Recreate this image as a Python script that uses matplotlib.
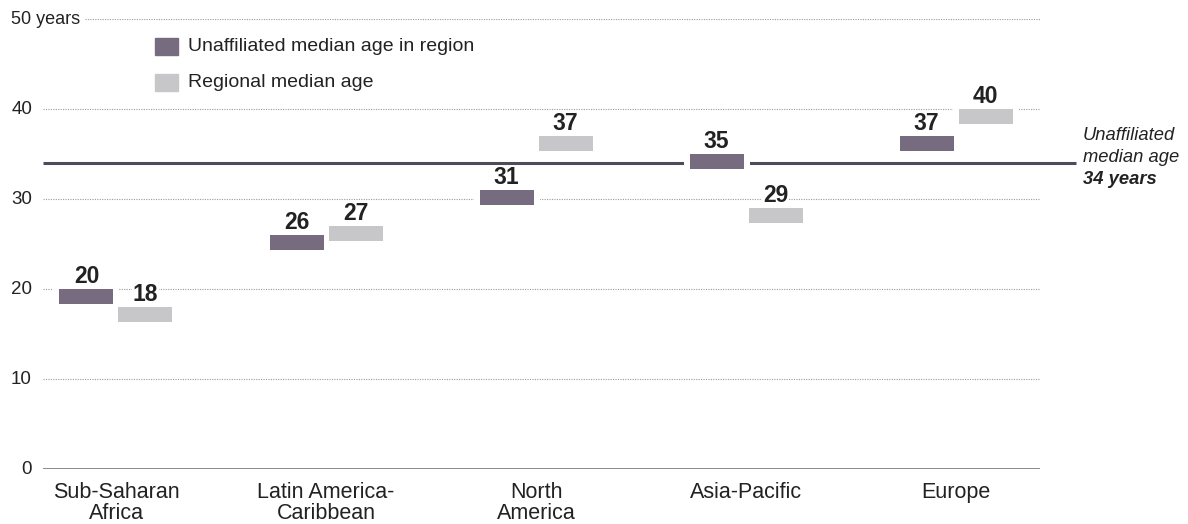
import numpy as np
import matplotlib
matplotlib.use("Agg")
import matplotlib.pyplot as plt
from matplotlib.patches import Rectangle

plt.rcParams['font.family'] = ['Liberation Sans', 'DejaVu Sans']

# data
regions = ["Sub-Saharan\nAfrica", "Latin America-\nCaribbean", "North\nAmerica", "Asia-Pacific", "Europe"]
unaffiliated = [20, 26, 31, 35, 37]
regional = [18, 27, 37, 29, 40]
overall_unaffiliated = 34
y_ticks = [0, 10, 20, 30, 40, 50]

# layout
unit = 210.0          # pixels between category centres
x0_px = 116           # pixel of first category centre
bar_w = 54 / unit
off = 29.5 / unit
bar_h = 1.61
pad = 6 / unit

dark = "#766b7f"
light = "#c7c7c9"
ref_col = "#4f4a5c"
txt = "#222222"

W, H = 1188, 524
fig = plt.figure(figsize=(W / 100, H / 100), dpi=100)

def fx(px):
    return px / W

def fy(py):
    return 1 - py / H

left_px, right_px, top_px, bot_px = 43, 1040, 19.3, 469.3
ax = fig.add_axes([fx(left_px), fy(bot_px), fx(right_px) - fx(left_px), fy(top_px) - fy(bot_px)])
ax.set_xlim((left_px - x0_px) / unit, (right_px - x0_px) / unit)
ax.set_ylim(0, 50)
ax.axis("off")

x = np.arange(len(regions))

# gridlines
for t in y_ticks[1:]:
    xmin = (85 - left_px) / (right_px - left_px) if t == 50 else 0
    ax.axhline(t, xmin=xmin, xmax=1, color="#9a9a9a", lw=0.8, ls=(0, (1, 1.2)), zorder=1)
ax.axhline(0, color="#8a8a8a", lw=1.4, zorder=1)

# y labels
px_per_unit = (bot_px - top_px) / 50
for t in y_ticks:
    if t == 50:
        fig.text(fx(11), fy(top_px), "50 years", ha="left", va="center", fontsize=13, color=txt)
    else:
        fig.text(fx(32), fy(bot_px - t * px_per_unit), str(t), ha="right", va="center",
                 fontsize=13.5, color=txt)

# overall unaffiliated median age line, runs past the plot area
ax.plot([ax.get_xlim()[0], (1076 - x0_px) / unit], [overall_unaffiliated] * 2,
        color=ref_col, lw=2.2, zorder=2, clip_on=False, solid_capstyle="butt")

for i in range(len(regions)):
    for v, dx, c in [(unaffiliated[i], -off, dark), (regional[i], off, light)]:
        # white halo so the lines break around bars
        ax.bar(x[i] + dx, bar_h + 0.5, bottom=v - bar_h - 0.25, width=bar_w + 2 * pad,
               color="white", zorder=2.5)
        ax.bar(x[i] + dx, bar_h, bottom=v - bar_h, width=bar_w, color=c, zorder=3)
        ax.annotate(str(v), (x[i] + dx, v), xytext=(0, 1), textcoords="offset points",
                    ha="center", va="bottom", fontsize=16.5, fontweight="bold", color=txt,
                    zorder=1.5,
                    bbox=dict(boxstyle="square,pad=0.05", fc="white", ec="none"))
    ax.text(x[i], -1.4, regions[i], ha="center", va="top", fontsize=15.5, color=txt,
            linespacing=1.0)

# right annotation
fig.text(fx(1083), fy(140), "Unaffiliated", ha="left", va="baseline", fontsize=13.2,
         style="italic", color=txt)
fig.text(fx(1083), fy(162), "median age", ha="left", va="baseline", fontsize=13.2,
         style="italic", color=txt)
fig.text(fx(1083), fy(184), "34 years", ha="left", va="baseline", fontsize=13.2,
         style="italic", fontweight="bold", color=txt)

# legend
for row, (lab, c) in enumerate([("Unaffiliated median age in region", dark),
                                 ("Regional median age", light)]):
    y0 = 38 + row * 36
    fig.patches.append(Rectangle((fx(155), fy(y0 + 17)), fx(23), fy(y0) - fy(y0 + 17),
                                 transform=fig.transFigure, color=c))
    fig.text(fx(188), fy(y0 + 8.5), lab, ha="left", va="center", fontsize=14, color=txt)

fig.savefig("out.png", dpi=100)
